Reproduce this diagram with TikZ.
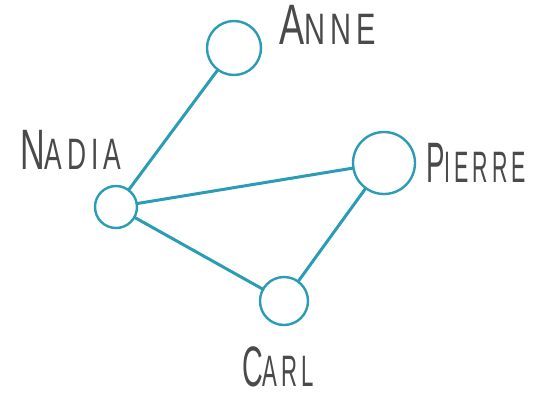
\documentclass[tikz,border=0pt]{standalone}
\usepackage{fontspec}
\newfontfamily\lblfont[FakeStretch=0.6,LetterSpace=11]{Liberation Sans}
\definecolor{teal1}{HTML}{2A9CB5}
\definecolor{ink}{HTML}{4A4A4A}
\newcommand{\bigsc}[3]{\scalebox{#1}[1]{{\fontsize{57}{57}\selectfont #2}{\fontsize{44}{44}\selectfont #3}}}
\tikzset{
  person/.style={circle, draw=teal1, line width=2.4pt, inner sep=0pt},
  link/.style={draw=teal1, line width=3pt, line cap=round, shorten <=-1pt, shorten >=-1pt},
  lbl/.style={text=ink, font=\lblfont, inner sep=0pt, anchor=base west},
}
\begin{document}
\begin{tikzpicture}[x=1pt,y=-1pt]
\useasboundingbox (0,0) rectangle (541,397);
\node[person, minimum size=54pt] (anne) at (234,48) {};
\node[person, minimum size=42pt] (nadia) at (116,207) {};
\node[person, minimum size=62pt] (pierre) at (384,163) {};
\node[person, minimum size=48pt] (carl) at (284,301) {};
\draw[link] (anne) -- (nadia);
\draw[link] (nadia) -- (pierre);
\draw[link] (nadia) -- (carl);
\draw[link] (pierre) -- (carl);
\node[lbl] (tanne) at (279,44) {\bigsc{1.1}{A}{NNE}};
\node[lbl] (tnadia) at (20,169) {\bigsc{1.0}{N}{ADIA}};
\node[lbl] (tpierre) at (426,182) {\bigsc{0.81}{P}{IERRE}};
\node[lbl] (tcarl) at (242,386) {\bigsc{0.84}{C}{ARL}};
\end{tikzpicture}
\end{document}
